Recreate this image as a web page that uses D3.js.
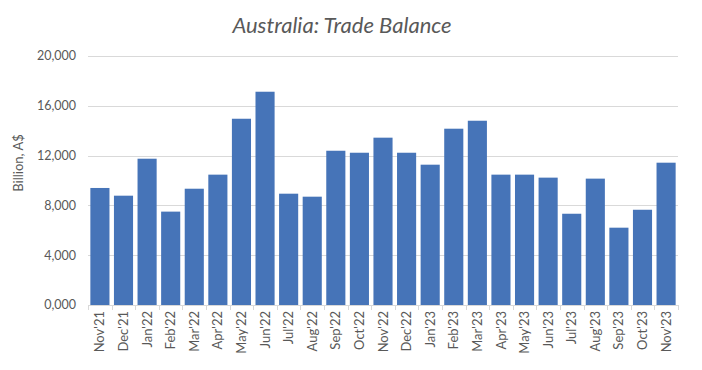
<!DOCTYPE html>
<html>
<head>
<meta charset="utf-8">
<script src="https://cdn.jsdelivr.net/npm/d3@7"></script>
<style>
  body { margin: 0; background: #fff; }
  text { font-family: Lato, "Open Sans", sans-serif; fill: #595959; }
</style>
</head>
<body>
<div id="chart"></div>
<script>
const months = ["Nov'21","Dec'21","Jan'22","Feb'22","Mar'22","Apr'22","May'22","Jun'22","Jul'22","Aug'22",
  "Sep'22","Oct'22","Nov'22","Dec'22","Jan'23","Feb'23","Mar'23","Apr'23","May'23","Jun'23",
  "Jul'23","Aug'23","Sep'23","Oct'23","Nov'23"];
const balance = [9400, 8780, 11750, 7500, 9340, 10470, 14960, 17130, 8940, 8700,
  12390, 12230, 13440, 12230, 11270, 14160, 14800, 10470, 10470, 10230,
  7330, 10150, 6210, 7650, 11430];
const yTicks = [0, 4000, 8000, 12000, 16000, 20000];

const W = 702, H = 370;
const plotL = 88, plotR = 678, plotT = 56, plotB = 305;

const svg = d3.select("#chart").append("svg")
  .attr("width", W)
  .attr("height", H);

const x = d3.scaleBand().domain(months).range([plotL, plotR]).paddingInner(0.19).paddingOuter(0.1);
const y = d3.scaleLinear().domain([0, 20000]).range([plotB, plotT]);

const fmt = v => v === 0 ? "0,000" : d3.format(",")(v);

// gridlines
svg.append("g")
  .selectAll("line")
  .data(yTicks.filter(d => d > 0))
  .join("line")
  .attr("x1", plotL).attr("x2", plotR)
  .attr("y1", d => Math.round(y(d)) + 0.5).attr("y2", d => Math.round(y(d)) + 0.5)
  .attr("stroke", "#d9d9d9").attr("stroke-width", 1);

// y labels
svg.append("g")
  .selectAll("text")
  .data(yTicks)
  .join("text")
  .attr("x", plotL - 12)
  .attr("y", d => y(d))
  .attr("dy", "0.35em")
  .attr("text-anchor", "end")
  .style("font-size", "12.5px")
  .text(fmt);

// bars
svg.append("g")
  .selectAll("rect")
  .data(balance)
  .join("rect")
  .attr("x", (d, i) => x(months[i]))
  .attr("y", d => y(d))
  .attr("width", x.bandwidth())
  .attr("height", d => y(0) - y(d))
  .attr("fill", "#4674b8");

// x axis line and ticks
const n = months.length;
svg.append("line")
  .attr("x1", plotL).attr("x2", plotR)
  .attr("y1", plotB + 0.5).attr("y2", plotB + 0.5)
  .attr("stroke", "#d9d9d9");
svg.append("g")
  .selectAll("line")
  .data(d3.range(n + 1))
  .join("line")
  .attr("x1", i => Math.round(plotL + i * (plotR - plotL) / n) + 0.5)
  .attr("x2", i => Math.round(plotL + i * (plotR - plotL) / n) + 0.5)
  .attr("y1", plotB).attr("y2", plotB + 5)
  .attr("stroke", "#d9d9d9");

// x labels
svg.append("g")
  .selectAll("text")
  .data(months)
  .join("text")
  .attr("transform", d => `translate(${x(d) + x.bandwidth() / 2},${plotB + 6}) rotate(-90)`)
  .attr("dy", "0.35em")
  .attr("text-anchor", "end")
  .style("font-size", "13px")
  .text(d => d);

// y axis title
svg.append("text")
  .attr("transform", "translate(18,163) rotate(-90)")
  .attr("dy", "0.35em")
  .attr("text-anchor", "middle")
  .style("font-size", "13px")
  .text("Billion, A$");

// title
svg.append("text")
  .attr("x", 342)
  .attr("y", 33)
  .attr("text-anchor", "middle")
  .style("font-size", "22px")
  .style("font-style", "italic")
  .text("Australia: Trade Balance");
</script>
</body>
</html>
